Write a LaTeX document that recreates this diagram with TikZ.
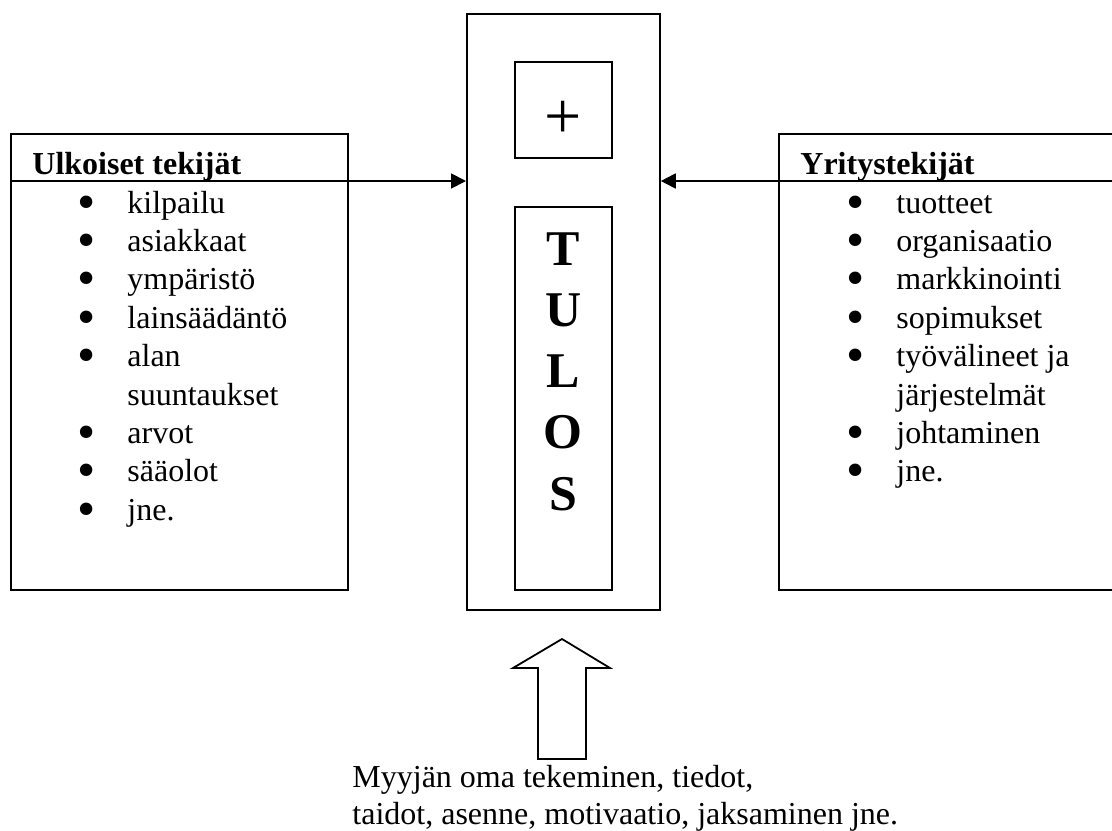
\documentclass[tikz,border=0pt]{standalone}
\usepackage{fontspec}
\setmainfont{Liberation Serif}
\usepackage{tikz}
\usetikzlibrary{arrows.meta, positioning, calc}
\tikzset{
  laatikko/.style={
    rectangle, draw=black, line width=0.9pt,
    inner sep=0pt, anchor=north west
  },
  % tekstit (monirivisissä base = viimeinen rivi)
  teksti/.style={font=\fontsize{16}{19.2}\selectfont, inner sep=0pt, align=left, anchor=base west},
  otsikko/.style={teksti, font=\fontsize{16}{19.2}\selectfont\bfseries},
  nuoli/.style={-{Triangle[length=7.5pt,width=7.5pt]}, line width=0.9pt}
}
\newcommand{\pallo}{\makebox[0pt]{\smash{\raisebox{-3pt}{\fontsize{26}{0}\selectfont\textbullet}}}}
\newcommand{\kohta}[1]{\makebox[23.3pt][l]{\hspace*{2.8pt}\pallo}#1}
\newcommand{\jatko}[1]{\hspace*{23.3pt}#1}

\begin{document}
\begin{tikzpicture}[x=0.5pt, y=-0.5pt]
\useasboundingbox (0,0) rectangle (1112,830);

% Laatikot
\node[laatikko, minimum width=168.5pt, minimum height=228pt] (ulkoiset) at (10,133) {};
\node[laatikko, minimum width=171pt, minimum height=228pt] (yritys) at (778,133) {};
\node[laatikko, minimum width=96.5pt, minimum height=298pt] (keski) at (466,13) {};
\node[laatikko, minimum width=48.5pt, minimum height=48pt] (plusbox) at (514,61) {};
\node[laatikko, minimum width=48.5pt, minimum height=191.5pt] (tulosbox) at (514,206) {};

% Keskiosan tekstit
\node[inner sep=0pt, font=\fontsize{33}{33}\selectfont] (plus) at (plusbox.center |- 0,120) {+};
\node[inner sep=0pt, align=center, anchor=base, font=\fontsize{25}{30.6}\selectfont\bfseries] (tulos) at (tulosbox.center |- 0,510) {T\\U\\L\\O\\S};

% Otsikot
\node[otsikko] (ulkootsikko) at (32,174) {Ulkoiset tekijät};
\node[otsikko] (yritysotsikko) at (800,174) {Yritystekijät};

% Luettelot
\node[teksti] (ulkolista) at (80.4,520.2) {
  \kohta{kilpailu}\\
  \kohta{asiakkaat}\\
  \kohta{ympäristö}\\
  \kohta{lainsäädäntö}\\
  \kohta{alan}\\
  \jatko{suuntaukset}\\
  \kohta{arvot}\\
  \kohta{sääolot}\\
  \kohta{jne.}
};
\node[teksti] (yrityslista) at (849.4,481.8) {
  \kohta{tuotteet}\\
  \kohta{organisaatio}\\
  \kohta{markkinointi}\\
  \kohta{sopimukset}\\
  \kohta{työvälineet ja}\\
  \jatko{järjestelmät}\\
  \kohta{johtaminen}\\
  \kohta{jne.}
};

% Nuolet keskelle
\coordinate (erotin) at (0,181);
\draw[nuoli] (ulkoiset.west |- erotin) -- (keski.west |- erotin);
\draw[nuoli] (yritys.east |- erotin) -- (keski.east |- erotin);

% Alanuoli ja selitys
\draw[line width=0.9pt, line join=miter] (562,639) -- (610,668) -- (586,668) -- (586,759)
  -- (538,759) -- (538,668) -- (513,668) -- cycle;
\node[teksti, font=\fontsize{16}{18.5}\selectfont] (myyja) at (352,824) {
  Myyjän oma tekeminen, tiedot,\\
  taidot, asenne, motivaatio, jaksaminen jne.
};

\end{tikzpicture}
\end{document}
